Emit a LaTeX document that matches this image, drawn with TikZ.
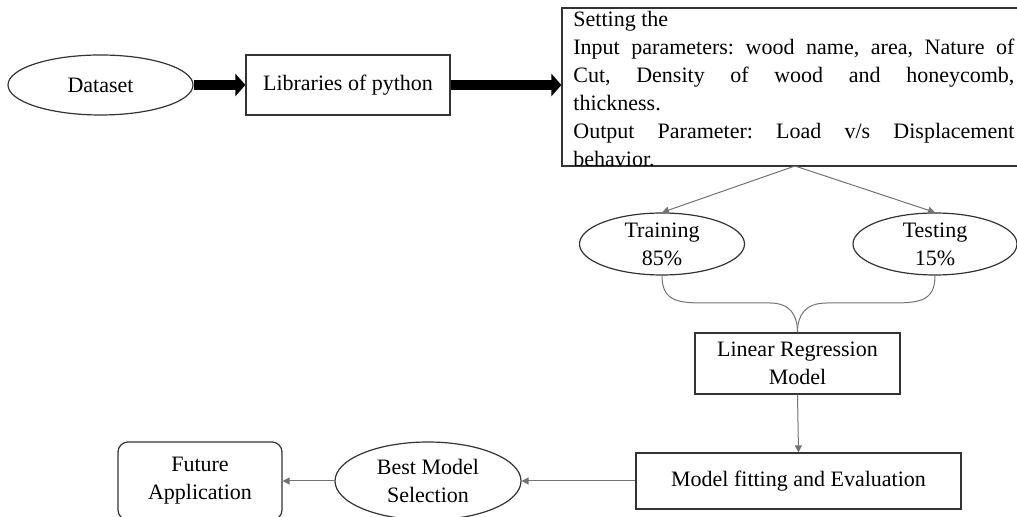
\documentclass[tikz,border=0pt]{standalone}
\usepackage{fontspec}
\setmainfont{Liberation Serif}
\usetikzlibrary{shapes.geometric,arrows.meta}
\begin{document}
\frenchspacing
\begin{tikzpicture}[x=0.5pt,y=-0.5pt,
  every node/.style={font=\fontsize{11pt}{14pt}\selectfont, inner sep=0pt},
  box/.style={draw=black!80, line width=0.6pt, rectangle, align=center},
  oval/.style={draw=black!80, line width=0.6pt, ellipse, align=center},
  bigarrow/.style={line width=5pt, -{Triangle[length=5pt,width=11pt]}},
  thin/.style={draw=black!55, line width=0.5pt},
  thinarrow/.style={thin, -{Triangle[length=3.5pt,width=3.5pt]}}]
\useasboundingbox (0,0) rectangle (1017,517);
\node[oval, minimum width=92.5pt, minimum height=30pt] (dataset) at (100.5,85) {Dataset};
\node[box, minimum width=102pt, minimum height=30pt] (libs) at (348,85) {Libraries of python};
\node[box, minimum width=228pt, minimum height=79pt] (setbox) at (790,87) {};
\node[anchor=base west, align=left] (settext) at (573,27) {%
\parbox[t]{220.5pt}{\frenchspacing\fontsize{11pt}{14pt}\selectfont
Setting the\\
\makebox[220.5pt][s]{Input parameters: wood name, area, Nature of}\\
\makebox[220.5pt][s]{Cut, Density of wood and honeycomb,}\\
thickness.\\
\makebox[220.5pt][s]{Output Parameter: Load v/s Displacement}\\
behavior.}};
\draw[draw=black!80, line width=0.6pt] (setbox.south west) -- (setbox.south east);
\coordinate (split) at (795,166);
\node[oval, minimum width=82.5pt, minimum height=31pt] (training) at (662,244) {Training\\85\%};
\node[oval, minimum width=82pt, minimum height=31pt] (testing) at (935,244) {Testing\\15\%};
\node[box, minimum width=102.5pt, minimum height=30.5pt] (linreg) at (797.5,363.5) {Linear Regression\\Model};
\node[box, minimum width=162.5pt, minimum height=28pt] (fit) at (798.5,481) {Model fitting and Evaluation};
\node[oval, minimum width=93pt, minimum height=39pt] (best) at (428,481) {Best Model\\Selection};
\node[box, rounded corners=5pt, minimum width=82pt, minimum height=39pt] (future) at (200,481) {Future\\Application};
\draw[bigarrow] (dataset.east) -- (libs.west);
\draw[bigarrow] (libs.east) -- (libs.east -| setbox.west);
\draw[thinarrow] (split) -- (training.north);
\draw[thinarrow] (split) -- (testing.north);
\draw[thin] (training.south) .. controls (662,303) and (680,303) .. (710,303) -- (770,303)
  .. controls (790,303) and (797.5,315) .. (linreg.north);
\draw[thin] (testing.south) .. controls (935,303) and (917,303) .. (887,303) -- (827,303)
  .. controls (805,303) and (797.5,315) .. (linreg.north);
\draw[thinarrow] (linreg.south) -- (fit.north);
\draw[thinarrow] (fit.west) -- (best.east);
\draw[thinarrow] (best.west) -- (future.east);
\end{tikzpicture}
\end{document}
